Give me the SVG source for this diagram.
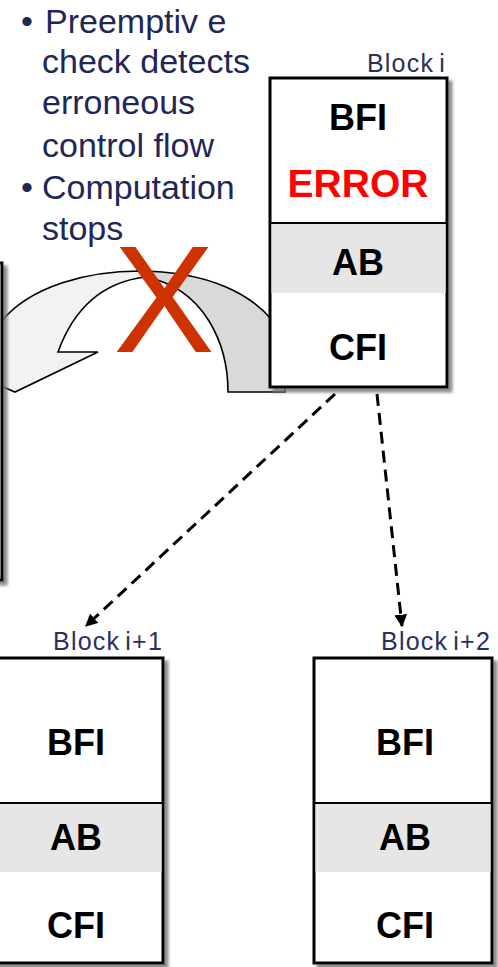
<svg xmlns="http://www.w3.org/2000/svg" width="498" height="967" viewBox="0 0 498 967">
  <defs>
    <filter id="shadow" x="-10%" y="-10%" width="130%" height="130%">
      <feDropShadow dx="4" dy="4" stdDeviation="1.6" flood-color="#777" flood-opacity="0.85"/>
    </filter>
    <marker id="arrowhead" viewBox="0 0 10 10" refX="9" refY="5" markerWidth="4.2" markerHeight="4.2" orient="auto" markerUnits="strokeWidth">
      <path d="M0,0 L10,5 L0,10 Z" fill="#000"/>
    </marker>
    <style>
      .note { font-family: "Liberation Sans", Arial, sans-serif; font-size: 34px; fill: #1f2757; }
      .label { font-family: "Liberation Sans", Arial, sans-serif; font-size: 25px; fill: #2a2f5e; text-anchor: end; letter-spacing: 1.2px; word-spacing: -3px; }
      .field { font-family: "Liberation Sans", Arial, sans-serif; font-size: 36px; font-weight: bold; fill: #000; text-anchor: middle; }
      .err { font-family: "Liberation Sans", Arial, sans-serif; font-size: 39px; font-weight: bold; fill: #ff0000; text-anchor: middle; }
      .frame { fill: #fff; stroke: #000; stroke-width: 3; }
      .band { fill: #e6e6e6; }
      .divider { stroke: #000; stroke-width: 2; }
      .dash { fill: none; stroke: #000; stroke-width: 3; stroke-dasharray: 12 7; }
      .curl { stroke: #000; stroke-width: 1.6; stroke-linejoin: miter; }
    </style>
  </defs>

  <rect width="498" height="967" fill="#fff"/>

  <!-- bullet notes -->
  <g id="notes">
    <text class="note" x="21" y="33">•</text>
    <text class="note" x="45" y="33">Preemptiv e</text>
    <text class="note" x="42" y="73">check detects</text>
    <text class="note" x="42" y="114">erroneous</text>
    <text class="note" x="42" y="157">control flow</text>
    <text class="note" x="21" y="199">•</text>
    <text class="note" x="42" y="199">Computation</text>
    <text class="note" x="42" y="240">stops</text>
  </g>

  <!-- blocked back-jump: curved arrow with a cross over it -->
  <g id="blocked-jump">
    <path class="curl" fill="#d9d9d9" d="M138,271 C200,271 260,290 285,340 L285,392 L228,392 C228,345 205,288 145,277 Z"/>
    <path class="curl" fill="#f2f2f2" d="M-6,332 L0,323 C30,285 90,271 140,271 L152,272 L145,277 C105,282 75,305 58,352 L98,352 L15,392 L-6,383 Z"/>
    <text x="164" y="352" font-family="Liberation Sans, Arial, sans-serif" font-size="152" fill="#cc3300" text-anchor="middle">X</text>
  </g>

  <!-- previous block at the left edge -->
  <g id="block-prev">
    <rect class="frame" x="-200" y="263" width="202" height="317" filter="url(#shadow)"/>
  </g>

  <!-- Block i -->
  <g id="block-i">
    <rect class="frame" x="270" y="78" width="177" height="309" filter="url(#shadow)"/>
    <rect class="band" x="271.5" y="223" width="174" height="70"/>
    <line class="divider" x1="270" y1="223" x2="447" y2="223"/>
    <text class="label" x="446" y="72">Block i</text>
    <text class="field" x="358" y="130">BFI</text>
    <text class="err" x="358" y="197">ERROR</text>
    <text class="field" x="358" y="275">AB</text>
    <text class="field" x="358" y="360">CFI</text>
  </g>

  <!-- Block i+1 -->
  <g id="block-i1">
    <rect class="frame" x="-14" y="658" width="177" height="305" filter="url(#shadow)"/>
    <rect class="band" x="-12" y="803" width="173.5" height="69"/>
    <line class="divider" x1="-14" y1="803" x2="163" y2="803"/>
    <text class="label" x="163" y="650">Block i+1</text>
    <text class="field" x="76" y="755">BFI</text>
    <text class="field" x="76" y="850">AB</text>
    <text class="field" x="76" y="938">CFI</text>
  </g>

  <!-- Block i+2 -->
  <g id="block-i2">
    <rect class="frame" x="314" y="658" width="178" height="305" filter="url(#shadow)"/>
    <rect class="band" x="315.5" y="803" width="175" height="69"/>
    <line class="divider" x1="314" y1="803" x2="492" y2="803"/>
    <text class="label" x="491" y="650">Block i+2</text>
    <text class="field" x="405" y="755">BFI</text>
    <text class="field" x="405" y="850">AB</text>
    <text class="field" x="405" y="938">CFI</text>
  </g>

  <!-- control-flow edges -->
  <g id="connectors">
    <line class="dash" x1="335" y1="394" x2="86" y2="626" marker-end="url(#arrowhead)"/>
    <line class="dash" x1="377" y1="394" x2="402" y2="626" marker-end="url(#arrowhead)"/>
  </g>
</svg>
